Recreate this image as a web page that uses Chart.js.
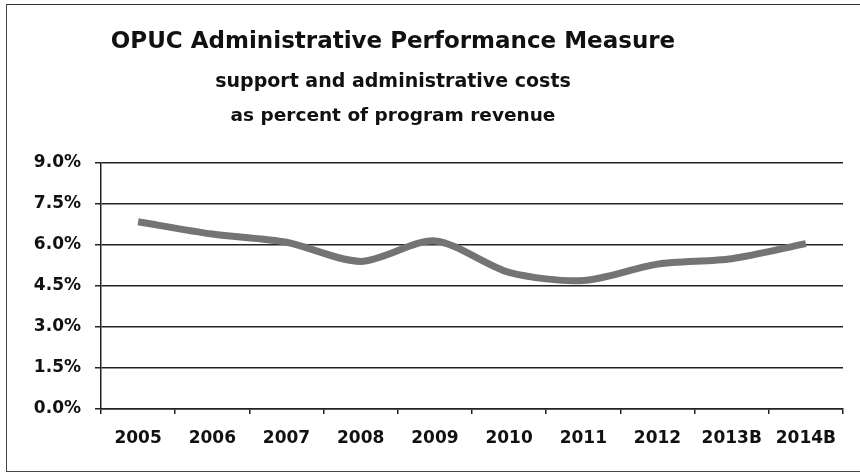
<!DOCTYPE html>
<html>
<head>
<meta charset="utf-8">
<script src="https://cdn.jsdelivr.net/npm/chart.js@4.4.1/dist/chart.umd.min.js"></script>
<style>
  html, body { margin: 0; padding: 0; background: #fff; }
  #wrap { position: relative; width: 860px; height: 474px; overflow: hidden; }
  #frame { position: absolute; left: 6px; top: 4px; width: 900px; height: 468px; border-left: 1.5px solid #444; border-top: 1.5px solid #333; border-bottom: 1.5px solid #444; box-sizing: border-box; pointer-events: none; }
  .t { position: absolute; left: 0; width: 786px; text-align: center; font-family: "DejaVu Sans", sans-serif; color: #111; white-space: nowrap; }
  #t1 { top: 27px; font-size: 23px; font-weight: bold; }
  #t2 { top: 69px; font-size: 19px; font-weight: bold; }
  #t3 { top: 104px; font-size: 18.5px; font-weight: bold; }
  canvas { position: absolute; left: 0; top: 0; }
</style>
</head>
<body>
<div id="wrap">
  <canvas id="c" width="860" height="474"></canvas>
  <div class="t" id="t1">OPUC Administrative Performance Measure</div>
  <div class="t" id="t2">support and administrative costs</div>
  <div class="t" id="t3">as percent of program revenue</div>
  <div id="frame"></div>
</div>
<script>
const categories = ["2005", "2006", "2007", "2008", "2009", "2010", "2011", "2012", "2013B", "2014B"];
const adminCostPct = [6.85, 6.4, 6.1, 5.4, 6.15, 5.0, 4.7, 5.3, 5.5, 6.05];
const yTicks = [0, 1.5, 3.0, 4.5, 6.0, 7.5, 9.0];

const tickFont = { family: '"DejaVu Sans", sans-serif', size: 17, weight: 'bold' };

new Chart(document.getElementById('c'), {
  type: 'line',
  data: {
    labels: categories,
    datasets: [{
      data: adminCostPct,
      borderColor: '#747474',
      borderWidth: 7,
      tension: 0.28,
      pointRadius: 0,
      fill: false
    }]
  },
  options: {
    responsive: false,
    animation: false,
    devicePixelRatio: 1,
    layout: { padding: { left: 0, right: 17, top: 163, bottom: 0 } },
    plugins: { legend: { display: false }, title: { display: false }, tooltip: { enabled: false } },
    scales: {
      x: {
        offset: true,
        afterFit: s => { s.height = 65; },
        grid: { offset: true, drawOnChartArea: false, drawTicks: true, tickLength: 5, color: '#222', lineWidth: 1.5 },
        border: { display: true, color: '#222', width: 1.5 },
        ticks: { color: '#111', padding: 14, maxRotation: 0, font: tickFont }
      },
      y: {
        min: 0, max: 9,
        afterFit: s => { s.width = 101; },
        afterBuildTicks: s => { s.ticks = yTicks.map(v => ({ value: v })); },
        grid: { color: '#222', lineWidth: 1.5, tickLength: 6 },
        border: { display: true, color: '#222', width: 1.5 },
        ticks: { color: '#111', padding: 14, font: tickFont,
          callback: v => Number(v).toFixed(1) + '%' }
      }
    }
  }
});
</script>
</body>
</html>
